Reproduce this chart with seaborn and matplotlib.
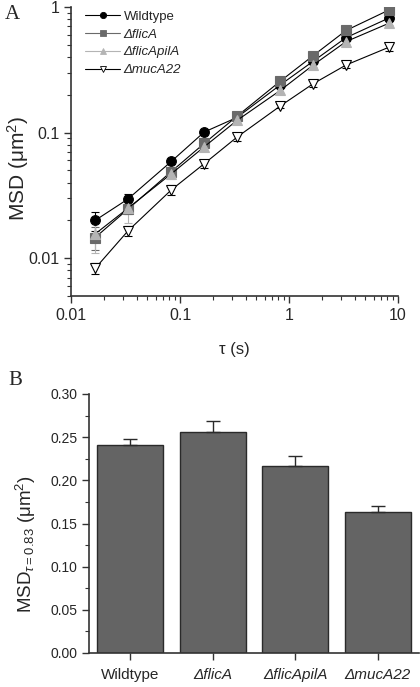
import matplotlib
matplotlib.use("Agg")
import matplotlib.pyplot as plt
from matplotlib.lines import Line2D
from matplotlib.ticker import LogLocator, FixedLocator, MultipleLocator, NullFormatter
import numpy as np
import pandas as pd
import seaborn as sns

# ── data ───────────────────────────────────────────────────────────────────
TAU = [1 / 60, 2 / 60, 5 / 60, 10 / 60, 20 / 60, 50 / 60, 100 / 60, 200 / 60, 500 / 60]

MSD_WT = [0.020, 0.0296, 0.059, 0.101, 0.132, 0.240, 0.370, 0.570, 0.820]
MSD_FLICA = [0.0146, 0.0246, 0.049, 0.082, 0.135, 0.257, 0.410, 0.650, 0.950]
MSD_FLICAPILA = [0.0156, 0.025, 0.047, 0.077, 0.125, 0.217, 0.345, 0.530, 0.745]
MSD_MUCA22 = [0.0083, 0.0165, 0.035, 0.0565, 0.092, 0.163, 0.245, 0.345, 0.480]

ERR_WT = [0.0035, 0.003, 0.003, 0.004, 0.005, 0.007, 0.015, 0.025, 0.035]
ERR_FLICA = [0.003, 0.002, 0.003, 0.004, 0.005, 0.012, 0.015, 0.02, 0.03]
ERR_FLICAPILA = [0.0046, 0.006, 0.004, 0.005, 0.006, 0.012, 0.015, 0.02, 0.03]
ERR_MUCA22 = [0.0008, 0.0015, 0.003, 0.004, 0.006, 0.007, 0.015, 0.02, 0.03]

STRAINS = ["Wildtype", "ΔflicA", "ΔflicApilA", "ΔmucA22"]
BAR_MSD = [0.2407, 0.2564, 0.2170, 0.1630]
BAR_ERR = [0.007, 0.012, 0.0116, 0.007]

# ── style ──────────────────────────────────────────────────────────────────
sns.set_style("ticks")
plt.rcParams["font.family"] = ["Liberation Sans", "DejaVu Sans"]
plt.rcParams["mathtext.fontset"] = "custom"
plt.rcParams["mathtext.rm"] = "Liberation Sans"
plt.rcParams["mathtext.it"] = "Liberation Sans:italic"
plt.rcParams["xtick.direction"] = "out"
plt.rcParams["ytick.direction"] = "out"

SERIES = [
    ("Wildtype", MSD_WT, ERR_WT, "o", "black", "black", "black"),
    ("ΔflicA", MSD_FLICA, ERR_FLICA, "s", "#6a6a6a", "#6a6a6a", "#6a6a6a"),
    ("ΔflicApilA", MSD_FLICAPILA, ERR_FLICAPILA, "^", "#b4b4b4", "#b4b4b4", "#b4b4b4"),
    ("ΔmucA22", MSD_MUCA22, ERR_MUCA22, "v", "white", "black", "black"),
]

fig = plt.figure(figsize=(4.2, 6.87), dpi=100)

# ── panel A: MSD vs lag time ───────────────────────────────────────────────
axA = fig.add_axes([71 / 420, 1 - 296 / 687, 327 / 420, 289 / 687])
axA.set_xscale("log")
axA.set_yscale("log")

handles = []
for name, vals, errs, mk, fc, ec, errc in SERIES:
    axA.errorbar(TAU, vals, yerr=errs, fmt="none", ecolor=errc,
                 elinewidth=0.8, capsize=3, capthick=0.8, zorder=2)
    sns.lineplot(x=TAU, y=vals, ax=axA, color="black", linewidth=0.8,
                 marker=mk, markersize=7, markerfacecolor=fc,
                 markeredgecolor=ec, markeredgewidth=0.8, legend=False, zorder=3)
    line_col = "black" if name in ("Wildtype", "ΔmucA22") else fc
    handles.append(Line2D([0], [0], color=line_col, lw=0.8, marker=mk,
                          markersize=4.5, markerfacecolor=fc, markeredgecolor=ec,
                          markeredgewidth=0.6, label=name))

axA.set_xlim(0.01, 10)
axA.set_ylim(0.005, 1)
axA.xaxis.set_major_locator(FixedLocator([0.01, 0.1, 1, 10]))
axA.set_xticklabels(["0.01", "0.1", "1", "10"])
axA.xaxis.set_minor_locator(LogLocator(base=10, subs=np.arange(2, 10)))
axA.xaxis.set_minor_formatter(NullFormatter())
axA.yaxis.set_major_locator(FixedLocator([0.01, 0.1, 1]))
axA.set_yticklabels(["0.01", "0.1", "1"])
axA.yaxis.set_minor_locator(LogLocator(base=10, subs=np.arange(2, 10)))
axA.yaxis.set_minor_formatter(NullFormatter())
axA.tick_params(which="major", length=5, width=1, labelsize=11.5, color="#333333")
axA.tick_params(which="minor", length=3, width=0.8, color="#333333")
axA.spines["top"].set_visible(False)
axA.spines["right"].set_visible(False)
for s in ("left", "bottom"):
    axA.spines[s].set_linewidth(1.2)
    axA.spines[s].set_color("#333333")

axA.set_xlabel("τ (s)", fontsize=12, labelpad=14)
axA.set_ylabel("MSD (μm$^2$)", fontsize=15)
axA.yaxis.set_label_coords(-0.122, 0.44)

leg = axA.legend(handles=handles, loc="upper left", bbox_to_anchor=(0.02, 1.015),
                 frameon=False, fontsize=9.5, labelspacing=0.42,
                 handlelength=2.6, handletextpad=0.3, borderaxespad=0.2)
for t in leg.get_texts()[1:]:
    t.set_fontstyle("italic")

fig.text(0.012, 0.972, "A", family="Liberation Serif", fontsize=15)

# ── panel B: MSD at tau = 0.83 s ───────────────────────────────────────────
bars = pd.DataFrame({"strain": STRAINS, "msd": BAR_MSD, "err": BAR_ERR})
axB = fig.add_axes([89 / 420, 1 - 653 / 687, 330 / 420, 259 / 687])
sns.barplot(data=bars, x="strain", y="msd", ax=axB, color="#646464",
            saturation=1, width=0.8, edgecolor="#2a2a2a", linewidth=1, errorbar=None)
axB.errorbar(np.arange(len(STRAINS)), bars["msd"],
             yerr=[np.zeros(len(STRAINS)), bars["err"]], fmt="none",
             ecolor="#2a2a2a", elinewidth=1, capsize=5, capthick=1)
axB.set_xlim(-0.5, 3.5)
axB.set_ylim(0, 0.30)
axB.yaxis.set_major_locator(MultipleLocator(0.05))
axB.yaxis.set_minor_locator(MultipleLocator(0.025))
axB.set_yticklabels([f"{v:.2f}" for v in axB.get_yticks()])
axB.tick_params(which="major", length=5, width=1, color="#333333")
axB.tick_params(axis="y", labelsize=10)
axB.tick_params(axis="x", labelsize=11, pad=6)
axB.tick_params(which="minor", length=3, width=0.8, color="#333333")
for t in axB.get_xticklabels()[1:]:
    t.set_fontstyle("italic")
axB.spines["top"].set_visible(False)
axB.spines["right"].set_visible(False)
for s in ("left", "bottom"):
    axB.spines[s].set_linewidth(1.2)
    axB.spines[s].set_color("#333333")
axB.set_xlabel("")
axB.set_ylabel(r"MSD$_{\tau\mathrm{=0.83}}$ (μm$^2$)", fontsize=13.5)
axB.yaxis.set_label_coords(-0.155, 0.42)

fig.text(0.02, 0.44, "B", family="Liberation Serif", fontsize=15)

fig.savefig("out.png", dpi=100)
